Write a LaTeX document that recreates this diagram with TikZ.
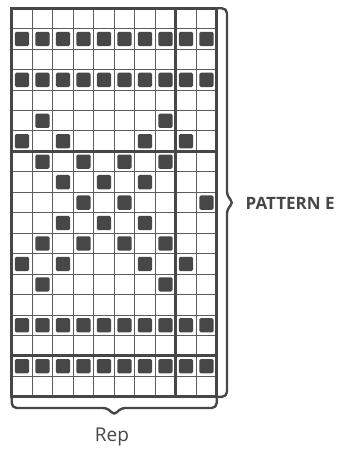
\documentclass[tikz,border=0pt]{standalone}
\usepackage{fontspec}
\setsansfont{Open Sans}
\definecolor{ChartInk}{HTML}{474747}
\definecolor{GridInk}{HTML}{5C5C5C}
\usetikzlibrary{positioning,calc}

\begin{document}
\begin{tikzpicture}[
  x=1pt,y=-1pt,
  gridline/.style={draw=GridInk,line width=1pt},
  frame/.style={draw=ChartInk,line width=3pt},
  stitch/.style={fill=ChartInk,rounded corners=1.5pt},
  brace/.style={draw=ChartInk,line width=2.4pt,rounded corners=5pt,line join=round},
  lbl/.style={text=ChartInk,inner sep=0pt,font=\sffamily}
]
\useasboundingbox (0,0) rectangle (358,454);
% cell size and chart corner
\def\cw{20.5}
\def\ch{20.45}
\coordinate (chartNW) at (11.7,8.3);
\coordinate (chartNE) at (216.7,8.3);
\coordinate (chartSW) at (11.7,396.8);
\coordinate (chartSE) at (216.7,396.8);

% filled squares, row/columns
\foreach \r/\cs in {2/{1,...,10},4/{1,...,10},6/{2,8},7/{1,3,7,9},8/{2,4,6,8},9/{3,5,7},
                    10/{4,6,10},11/{3,5,7},12/{2,4,6,8},13/{1,3,7,9},14/{2,8},16/{1,...,10},18/{1,...,10}}
  \foreach \c in \cs
    \fill[stitch] ($(chartNW)+({(\c-1)*\cw+3.1},{(\r-1)*\ch+3.1})$) rectangle ++(14.3,14.3);

% grid
\foreach \c in {1,...,9}
  \draw[gridline] ($(chartNW)+({\c*\cw},0)$) -- ++(0,{19*\ch});
\foreach \r in {1,...,18}
  \draw[gridline] ($(chartNW)+(0,{\r*\ch})$) -- ++({10*\cw},0);
\draw[frame] ($(chartNW)+({8*\cw},0)$) -- ++(0,{19*\ch});
\draw[frame] ($(chartNW)+(0,{7*\ch})$) -- ++({10*\cw},0);
\draw[frame] ($(chartNW)+(0,{17*\ch})$) -- ++({10*\cw},0);
\draw[frame] (chartNW) rectangle (chartSE);

% labels
\node[lbl,font=\sffamily\bfseries\fontsize{17}{20}\selectfont,anchor=base west] (patternE) at (245.5,209.3) {PATTERN E};
\node[lbl,font=\sffamily\fontsize{19}{22}\selectfont,anchor=base] (rep) at (112,441.7) {Rep};

% braces
\coordinate (rightTip) at (234,202.6);
\coordinate (bottomTip) at (114.2,416);
\draw[brace] (chartNE) -| ($(rightTip)+(-7,-6)$) -- (rightTip) -- ($(rightTip)+(-7,6)$) |- (chartSE);
\draw[brace] (chartSW) |- ($(bottomTip)+(-6,-8)$) -- (bottomTip) -- ($(bottomTip)+(6,-8)$) -| (chartSE);
\end{tikzpicture}
\end{document}
